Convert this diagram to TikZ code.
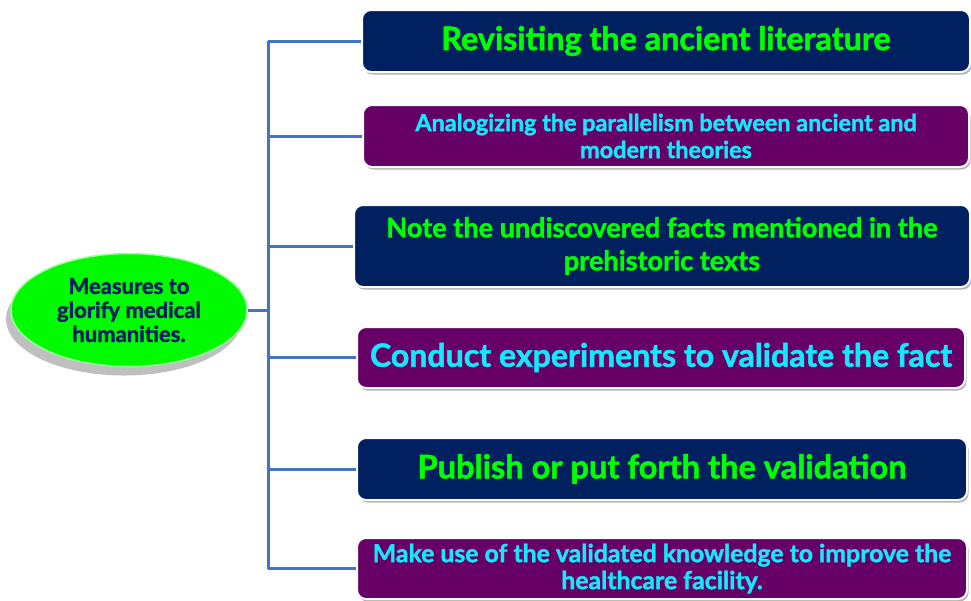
\documentclass[tikz,border=0pt]{standalone}
\usepackage{fontspec}
\setmainfont{Lato}[BoldFeatures = {FakeBold = 1.6}]
\usepackage{tikz}
\usetikzlibrary{shapes.geometric,shadows}
\definecolor{boxnavy}{RGB}{0,32,96}
\definecolor{boxplum}{RGB}{102,0,102}
\definecolor{textgreen}{RGB}{0,255,0}
\definecolor{textcyan}{RGB}{20,232,250}
\definecolor{ellgreen}{RGB}{0,250,0}
\definecolor{linkblue}{RGB}{68,114,196}
\tikzset{
    measurebox/.style = {rectangle, rounded corners = 9pt, draw = white, line width = 2pt,
        align = center, inner sep = 0pt, font = \bfseries,
        drop shadow = {shadow xshift = 1.5pt, shadow yshift = -2.5pt, fill = black, opacity = 0.3}},
    navybox/.style = {measurebox, fill = boxnavy, text = textgreen},
    plumbox/.style = {measurebox, fill = boxplum, text = textcyan},
    link/.style = {draw = linkblue, line width = 3pt},
}

\begin{document}
\begin{tikzpicture}[x = 1pt, y = -1pt]
\useasboundingbox (0,0) rectangle (971,600);
\fill[white] (0,0) rectangle (971,600);
\node[ellipse, draw = green!40!white, line width = 1.5pt, fill = ellgreen, text = boxnavy,
    minimum width = 236pt, minimum height = 113pt, inner sep = 0pt, align = center,
    font = \bfseries\fontsize{22}{24}\selectfont,
    drop shadow = {shadow xshift = -5pt, shadow yshift = -9pt, fill = black, opacity = 0.25}]
    (measures) at (129,310) {Measures to\\glorify medical\\humanities.};
\node[navybox, minimum width = 608pt, minimum height = 62pt,
    font = \bfseries\fontsize{32.3}{36}\selectfont] (revisit) at (666,41) {Revisiting the ancient literature};
\node[plumbox, minimum width = 606pt, minimum height = 62pt,
    font = \bfseries\fontsize{23.4}{27}\selectfont] (analog) at (666,136) {Analogizing the parallelism between ancient and\\modern theories};
\node[navybox, minimum width = 616pt, minimum height = 82pt,
    font = \bfseries\fontsize{27.1}{33}\selectfont] (note) at (662,246) {Note the undiscovered facts mentioned in the\\prehistoric texts};
\node[plumbox, minimum width = 608pt, minimum height = 61pt,
    font = \bfseries\fontsize{32.1}{36}\selectfont] (conduct) at (661,357.5) {Conduct experiments to validate the fact};
\node[navybox, minimum width = 610pt, minimum height = 62pt,
    font = \bfseries\fontsize{32.6}{36}\selectfont] (publish) at (662,469) {Publish or put forth the validation};
\node[plumbox, minimum width = 610pt, minimum height = 61pt,
    font = \bfseries\fontsize{24.8}{27}\selectfont] (use) at (662,568.5) {Make use of the validated knowledge to improve the\\healthcare facility.};
\coordinate (trunk) at (268,0);
\draw[link] (revisit.west -| trunk) -- (use.west -| trunk);
\draw[link] (measures.east) -- (measures.east -| trunk);
\foreach \n in {revisit, analog, note, conduct, publish, use}
    \draw[link] (\n.west -| trunk) -- (\n.west);
\end{tikzpicture}
\end{document}
